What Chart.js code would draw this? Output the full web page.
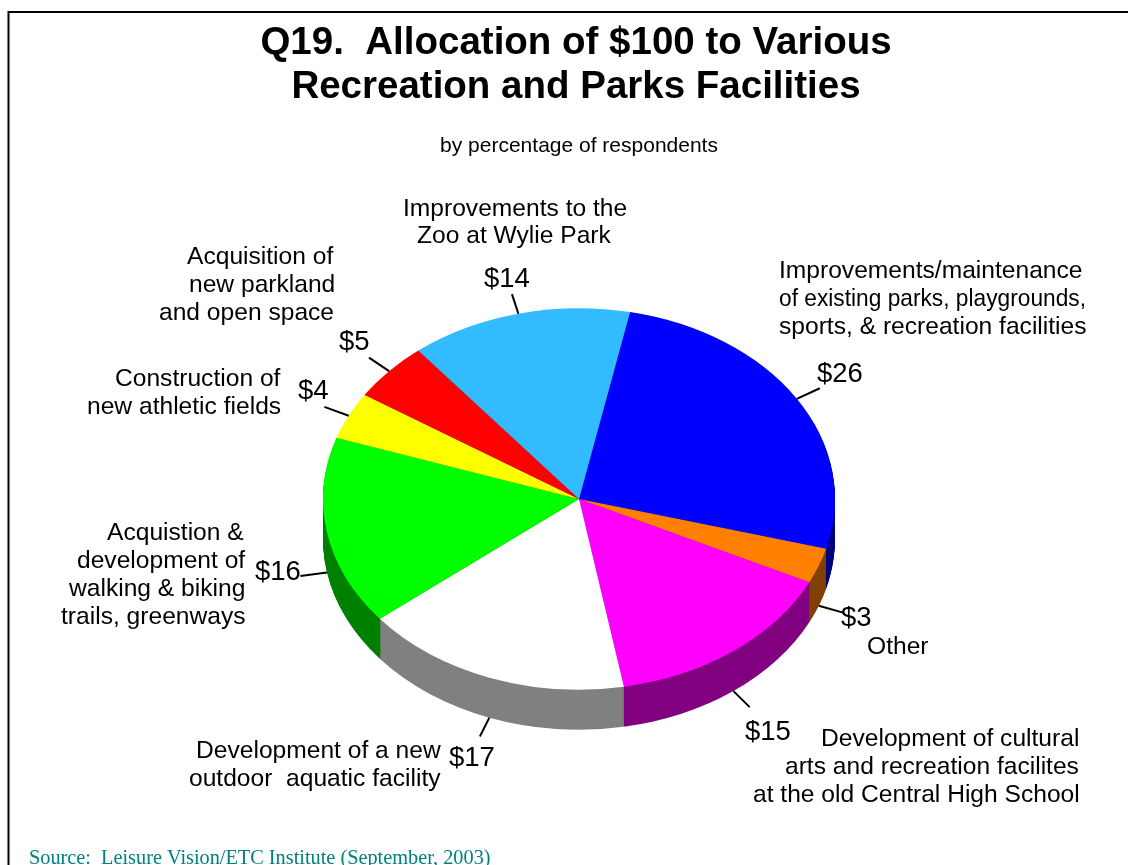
<!DOCTYPE html>
<html>
<head>
<meta charset="utf-8">
<title>Q19. Allocation of $100</title>
<script src="https://cdn.jsdelivr.net/npm/chart.js@4"></script>
<style>
  body { margin: 0; background: #fff; overflow: hidden; }
  canvas { display: block; }
</style>
</head>
<body>
<canvas id="pieChart" width="1128" height="865"></canvas>
<script>
// slices, clockwise from the blue one
const values = [26, 3, 15, 17, 16, 4, 5, 14];
const categories = [
  ['Improvements/maintenance', 'of existing parks, playgrounds,', 'sports, & recreation facilities'],
  ['Other'],
  ['Development of cultural', 'arts and recreation facilites', 'at the old Central High School'],
  ['Development of a new', 'outdoor  aquatic facility'],
  ['Acquistion &', 'development of', 'walking & biking', 'trails, greenways'],
  ['Construction of', 'new athletic fields'],
  ['Acquisition of', 'new parkland', 'and open space'],
  ['Improvements to the', 'Zoo at Wylie Park']
];
const titleLines = ['Q19.  Allocation of $100 to Various', 'Recreation and Parks Facilities'];
const subtitleText = 'by percentage of respondents';
const sourceText = 'Source:  Leisure Vision/ETC Institute (September, 2003)';

const topColors = ['#0000ff', '#ff8000', '#ff00ff', '#ffffff', '#00ff00', '#ffff00', '#ff0000', '#33bbff'];
const sideColors = ['#000080', '#804000', '#800080', '#808080', '#008000', '#808000', '#800000', '#1a5e80'];

// text placement: left edge and middle of each line (optional third = max width)
const categorySpots = [
  [[779, 271], [779, 299, 307], [779, 327]],
  [[867, 647]],
  [[821, 739], [785, 767], [753, 795]],
  [[196, 751], [189, 779]],
  [[107, 533], [77, 561], [69, 589], [61, 617]],
  [[115, 379], [87, 407]],
  [[187, 257], [189, 285], [159, 313]],
  [[403, 209], [417, 236]]
];
const valueSpots = [[817, 374], [841, 618], [745, 732], [449, 758], [255, 572], [298, 391], [339, 342], [484, 279]];

const squash = 0.745;  // tilt of the pie
const depth = 40;      // height of the side wall, px
const leaderLength = 27;
const fontFamily = '"Liberation Sans", Arial, sans-serif';

// Chart.js only draws round pies, so squash the context around the centre and
// paint the side wall from the arcs before the top is drawn
const tiltPlugin = {
  id: 'tilt',
  afterLayout(chart) {
    // title sits 3px left of the pie centre in the original
    chart.titleBlock.right -= 6;
  },
  beforeDraw(chart) {
    const ctx = chart.ctx;
    ctx.save();
    ctx.strokeStyle = '#000';
    ctx.lineWidth = 2;
    ctx.strokeRect(8.5, 12, 1300, 1000);
    ctx.restore();
  },
  beforeDatasetDraw(chart) {
    const ctx = chart.ctx;
    const arcs = chart.getDatasetMeta(0).data;
    const cx = arcs[0].x, cy = arcs[0].y;
    ctx.save();
    ctx.translate(cx, cy);
    ctx.scale(1, squash);
    ctx.translate(-cx, -cy);
    for (let off = depth; off > 0; off--) {
      arcs.forEach((arc, i) => {
        ctx.fillStyle = sideColors[i];
        ctx.beginPath();
        ctx.moveTo(cx, cy + off / squash);
        ctx.arc(cx, cy + off / squash, arc.outerRadius, arc.startAngle, arc.endAngle);
        ctx.closePath();
        ctx.fill();
      });
    }
  },
  afterDatasetDraw(chart) {
    chart.ctx.restore();
  },
  afterDraw(chart) {
    const ctx = chart.ctx;
    const arcs = chart.getDatasetMeta(0).data;
    ctx.save();
    ctx.fillStyle = '#000';
    ctx.strokeStyle = '#000';
    ctx.lineWidth = 2;
    ctx.textBaseline = 'middle';
    ctx.textAlign = 'left';
    arcs.forEach((arc, i) => {
      const mid = (arc.startAngle + arc.endAngle) / 2;
      const dx = Math.cos(mid), dy = Math.sin(mid) * squash;
      const x0 = arc.x + arc.outerRadius * dx;
      const y0 = arc.y + arc.outerRadius * dy + (dy > 0 ? depth : 0);
      ctx.beginPath();
      ctx.moveTo(x0, y0);
      ctx.lineTo(x0 + leaderLength * dx, y0 + leaderLength * dy);
      ctx.stroke();

      ctx.font = '27.5px ' + fontFamily;
      ctx.fillText('$' + values[i], valueSpots[i][0], valueSpots[i][1]);
      ctx.font = '24.6px ' + fontFamily;
      categories[i].forEach((line, j) => {
        const spot = categorySpots[i][j];
        ctx.fillText(line, spot[0], spot[1], spot[2] || 1000);
      });
    });
    ctx.font = '20.3px "Liberation Serif", "Times New Roman", serif';
    ctx.fillStyle = '#008080';
    ctx.fillText(sourceText, 29, 859);
    ctx.restore();
  }
};

new Chart(document.getElementById('pieChart'), {
  type: 'pie',
  data: {
    labels: categories.map(c => c.join(' ')),
    datasets: [{
      data: values,
      backgroundColor: topColors,
      borderWidth: 0
    }]
  },
  options: {
    responsive: false,
    animation: false,
    rotation: 11.5,
    events: [],
    layout: { padding: { left: 30, right: 0, top: 0, bottom: 110 } },
    plugins: {
      legend: { display: false },
      tooltip: { enabled: false },
      title: {
        display: true,
        text: titleLines,
        color: '#000',
        font: { family: fontFamily, size: 38.5, weight: 'bold', lineHeight: 1.143 },
        padding: { top: 21, bottom: 25 }
      },
      subtitle: {
        display: true,
        text: subtitleText,
        color: '#000',
        font: { family: fontFamily, size: 21, lineHeight: 1.143 },
        padding: { top: 0, bottom: 85 }
      }
    }
  },
  plugins: [tiltPlugin]
});
</script>
</body>
</html>
